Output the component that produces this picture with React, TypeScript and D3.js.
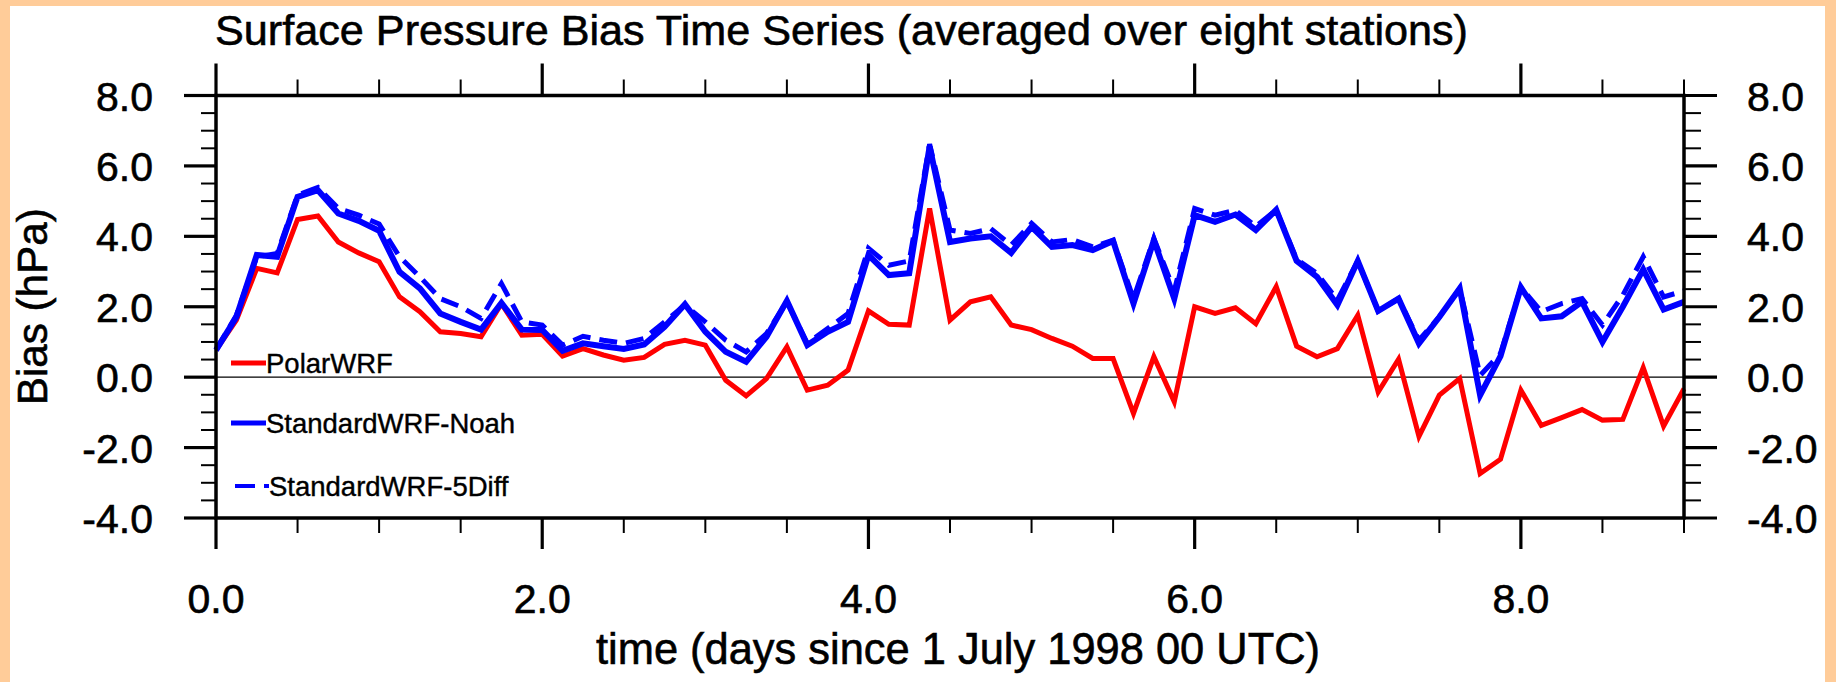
import React from "react";
import * as d3 from "d3";

const TIME_STEP_DAYS = 0.125;

const POLAR_WRF = [
  0.77, 1.62, 3.09, 2.96, 4.48, 4.58, 3.84, 3.53, 3.28, 2.28, 1.86, 1.29, 1.24, 1.15, 2.09, 1.19,
  1.22, 0.6, 0.81, 0.63, 0.48, 0.56, 0.93, 1.05, 0.91, -0.09, -0.53, -0.04, 0.86, -0.37, -0.23, 0.2,
  1.88, 1.5, 1.48, 4.79, 1.62, 2.14, 2.28, 1.48, 1.35, 1.1, 0.88, 0.53, 0.53, -1.03, 0.58, -0.7,
  2.0, 1.81, 1.97, 1.52, 2.57, 0.88, 0.58, 0.81, 1.76, -0.42, 0.51, -1.68, -0.51, -0.04, -2.74, -2.33,
  -0.37, -1.37, -1.15, -0.92, -1.22, -1.2, 0.27, -1.39, -0.33,
];

const STANDARD_NOAH = [
  0.77, 1.71, 3.47, 3.42, 5.12, 5.31, 4.65, 4.44, 4.16, 2.99, 2.52, 1.81, 1.57, 1.35, 2.11, 1.35,
  1.34, 0.75, 0.96, 0.88, 0.8, 0.93, 1.43, 2.07, 1.29, 0.72, 0.44, 1.15, 2.17, 0.91, 1.29, 1.57,
  3.47, 2.9, 2.95, 6.55, 3.84, 3.94, 4.0, 3.53, 4.27, 3.7, 3.75, 3.61, 3.87, 2.09, 3.89, 2.23,
  4.6, 4.41, 4.62, 4.18, 4.75, 3.3, 2.85, 2.05, 3.3, 1.88, 2.23, 0.96, 1.71, 2.52, -0.51, 0.6,
  2.55, 1.67, 1.73, 2.14, 1.0, 2.0, 3.06, 1.92, 2.14,
];

const STANDARD_5DIFF = [
  0.77, 1.76, 3.42, 3.51, 5.17, 5.39, 4.79, 4.6, 4.35, 3.42, 2.85, 2.23, 2.0, 1.67, 2.66, 1.57,
  1.48, 0.91, 1.16, 1.05, 0.96, 1.1, 1.57, 2.05, 1.57, 1.05, 0.72, 1.24, 2.14, 0.96, 1.38, 1.81,
  3.66, 3.18, 3.3, 6.62, 4.18, 4.08, 4.22, 3.75, 4.37, 3.84, 3.91, 3.7, 3.89, 2.23, 3.94, 2.45,
  4.79, 4.6, 4.74, 4.28, 4.75, 3.35, 2.95, 2.19, 3.3, 1.88, 2.23, 1.05, 1.71, 2.52, 0.05, 0.67,
  2.55, 1.86, 2.09, 2.23, 1.48, 2.33, 3.42, 2.28, 2.45,
];

const SERIES_NAMES = ["PolarWRF", "StandardWRF-Noah", "StandardWRF-5Diff"];
const X_MAJOR_TICKS = [0, 2, 4, 6, 8];
const X_TICK_LABELS = ["0.0", "2.0", "4.0", "6.0", "8.0"];
const X_MINOR_TICKS = [0.5, 1, 1.5, 2.5, 3, 3.5, 4.5, 5, 5.5, 6.5, 7, 7.5, 8.5, 9];
const Y_MAJOR_TICKS = [-4, -2, 0, 2, 4, 6, 8];
const Y_TICK_LABELS = ["-4.0", "-2.0", "0.0", "2.0", "4.0", "6.0", "8.0"];
const Y_MINOR_TICKS = [-3.5, -3, -2.5, -1.5, -1, -0.5, 0.5, 1, 1.5, 2.5, 3, 3.5, 4.5, 5, 5.5, 6.5, 7, 7.5];

const TITLE = "Surface Pressure Bias Time Series (averaged over eight stations)";
const X_LABEL = "time (days since 1 July 1998 00 UTC)";
const Y_LABEL = "Bias (hPa)";

const W = 1836;
const H = 682;
const FONT = "'Liberation Sans', Arial, Helvetica, sans-serif";

export default function App() {
  const left = 216;
  const right = 1684;
  const top = 95.5;
  const bottom = 518;
  const x = d3.scaleLinear().domain([0, 9]).range([left, right]);
  const y = d3.scaleLinear().domain([-4, 8]).range([bottom, top]);

  const mk = (vals: number[]) =>
    d3
      .line<number>()
      .x((_, i) => x(i * TIME_STEP_DAYS))
      .y((v) => y(v))(vals) as string;

  const series = [
    { name: SERIES_NAMES[0], vals: POLAR_WRF, color: "#ff0000", width: 5, dash: undefined as string | undefined },
    { name: SERIES_NAMES[1], vals: STANDARD_NOAH, color: "#0000ff", width: 6, dash: undefined as string | undefined },
    { name: SERIES_NAMES[2], vals: STANDARD_5DIFF, color: "#0000ff", width: 5, dash: "18,9" },
  ];

  const legendY = [363, 423, 486];
  const txtStroke = { stroke: "#000", strokeWidth: 0.6 };

  return (
    <svg
      width={W}
      height={H}
      style={{ position: "absolute", left: 0, top: 0, display: "block" }}
      fontFamily={FONT}
    >
      <rect x={0} y={0} width={W} height={H} fill="#ffcc99" />
      <rect x={10} y={6} width={1815} height={H - 6} fill="#ffffff" />

      {/* title */}
      <text x={215} y={45} fontSize={43} textLength={1253} lengthAdjust="spacingAndGlyphs" fill="#000" {...txtStroke}>
        {TITLE}
      </text>

      {/* zero line */}
      <line x1={left} x2={right} y1={y(0)} y2={y(0)} stroke="#000" strokeWidth={1.3} />

      {/* data */}
      <g fill="none" strokeLinejoin="miter" strokeLinecap="butt">
        {series.map((s) => (
          <path key={s.name} d={mk(s.vals)} stroke={s.color} strokeWidth={s.width} strokeDasharray={s.dash} />
        ))}
      </g>

      {/* legend */}
      {series.map((s, i) => (
        <g key={"lg" + s.name}>
          {s.dash ? (
            <line x1={235} x2={269} y1={legendY[i]} y2={legendY[i]} stroke={s.color} strokeWidth={4} strokeDasharray="20,9" />
          ) : (
            <line x1={231} x2={266} y1={legendY[i]} y2={legendY[i]} stroke={s.color} strokeWidth={5} />
          )}
          <text x={i === 2 ? 269 : 266} y={legendY[i] + 10} fontSize={27.5} fill="#000" {...txtStroke} strokeWidth={0.4}>
            {s.name}
          </text>
        </g>
      ))}

      {/* frame */}
      <rect x={left} y={top} width={right - left} height={bottom - top} fill="none" stroke="#000" strokeWidth={3.5} />

      {/* x ticks */}
      {X_MAJOR_TICKS.map((t) => (
        <g key={"xM" + t}>
          <line x1={x(t)} x2={x(t)} y1={bottom} y2={bottom + 31} stroke="#000" strokeWidth={3.2} />
          <line x1={x(t)} x2={x(t)} y1={top} y2={top - 32} stroke="#000" strokeWidth={3.2} />
        </g>
      ))}
      {X_MINOR_TICKS.map((t) => (
        <g key={"xm" + t}>
          <line x1={x(t)} x2={x(t)} y1={bottom} y2={bottom + 15} stroke="#000" strokeWidth={2} />
          <line x1={x(t)} x2={x(t)} y1={top} y2={top - 16} stroke="#000" strokeWidth={2} />
        </g>
      ))}
      {X_MAJOR_TICKS.map((t, i) => (
        <text key={"xl" + t} x={x(t)} y={613} fontSize={41} textAnchor="middle" fill="#000" {...txtStroke}>
          {X_TICK_LABELS[i]}
        </text>
      ))}

      {/* y ticks */}
      {Y_MAJOR_TICKS.map((t) => (
        <g key={"yM" + t}>
          <line x1={left - 32} x2={left} y1={y(t)} y2={y(t)} stroke="#000" strokeWidth={3.2} />
          <line x1={right} x2={right + 33} y1={y(t)} y2={y(t)} stroke="#000" strokeWidth={3.2} />
        </g>
      ))}
      {Y_MINOR_TICKS.map((t) => (
        <g key={"ym" + t}>
          <line x1={left - 15} x2={left} y1={y(t)} y2={y(t)} stroke="#000" strokeWidth={2} />
          <line x1={right} x2={right + 17} y1={y(t)} y2={y(t)} stroke="#000" strokeWidth={2} />
        </g>
      ))}
      {Y_MAJOR_TICKS.map((t, i) => (
        <g key={"yl" + t}>
          <text x={153} y={y(t) + 15} fontSize={41} textAnchor="end" fill="#000" {...txtStroke}>
            {Y_TICK_LABELS[i]}
          </text>
          <text x={1747} y={y(t) + 15} fontSize={41} textAnchor="start" fill="#000" {...txtStroke}>
            {Y_TICK_LABELS[i]}
          </text>
        </g>
      ))}

      {/* axis labels */}
      <text
        x={958}
        y={664}
        fontSize={43.5}
        textAnchor="middle"
        textLength={724}
        lengthAdjust="spacingAndGlyphs"
        fill="#000"
        {...txtStroke}
      >
        {X_LABEL}
      </text>
      <text
        transform={`translate(47, ${(top + bottom) / 2}) rotate(-90)`}
        fontSize={43}
        textAnchor="middle"
        textLength={197}
        lengthAdjust="spacingAndGlyphs"
        fill="#000"
        {...txtStroke}
      >
        {Y_LABEL}
      </text>
    </svg>
  );
}
